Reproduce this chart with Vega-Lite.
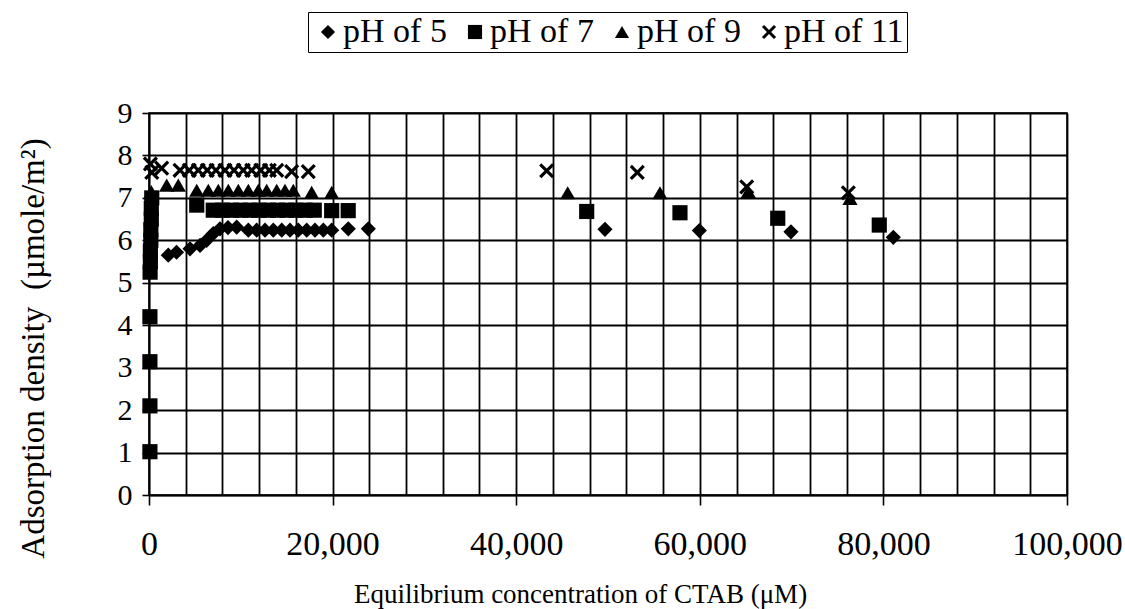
{
  "$schema": "https://vega.github.io/schema/vega-lite/v6.json",
  "width": 918,
  "height": 382,
  "autosize": {"type": "none"},
  "padding": {"left": 149, "top": 113, "right": 58, "bottom": 114},
  "background": "white",
  "config": {
    "view": {"stroke": "black", "strokeWidth": 1.5},
    "font": "Liberation Serif",
    "axis": {
      "labelFont": "Liberation Serif",
      "titleFont": "Liberation Serif",
      "labelColor": "black",
      "titleColor": "black",
      "titleFontWeight": "normal",
      "domainColor": "black",
      "domainWidth": 1.6,
      "tickColor": "black",
      "tickWidth": 1.6,
      "gridColor": "black",
      "gridWidth": 1.8,
      "gridOpacity": 1
    },
    "legend": {
      "labelFont": "Liberation Serif",
      "labelColor": "black"
    }
  },
  "data": {
    "values": [
      {"c": 2100, "a": 5.65, "pH": "pH of 5"},
      {"c": 3000, "a": 5.72, "pH": "pH of 5"},
      {"c": 4470, "a": 5.8, "pH": "pH of 5"},
      {"c": 5560, "a": 5.88, "pH": "pH of 5"},
      {"c": 6280, "a": 6.0, "pH": "pH of 5"},
      {"c": 7000, "a": 6.16, "pH": "pH of 5"},
      {"c": 7730, "a": 6.27, "pH": "pH of 5"},
      {"c": 8600, "a": 6.3, "pH": "pH of 5"},
      {"c": 9550, "a": 6.31, "pH": "pH of 5"},
      {"c": 10820, "a": 6.24, "pH": "pH of 5"},
      {"c": 11730, "a": 6.24, "pH": "pH of 5"},
      {"c": 12640, "a": 6.24, "pH": "pH of 5"},
      {"c": 13540, "a": 6.24, "pH": "pH of 5"},
      {"c": 14460, "a": 6.24, "pH": "pH of 5"},
      {"c": 15360, "a": 6.24, "pH": "pH of 5"},
      {"c": 16260, "a": 6.24, "pH": "pH of 5"},
      {"c": 17180, "a": 6.24, "pH": "pH of 5"},
      {"c": 18080, "a": 6.24, "pH": "pH of 5"},
      {"c": 18990, "a": 6.24, "pH": "pH of 5"},
      {"c": 19900, "a": 6.24, "pH": "pH of 5"},
      {"c": 21710, "a": 6.27, "pH": "pH of 5"},
      {"c": 23890, "a": 6.27, "pH": "pH of 5"},
      {"c": 49670, "a": 6.26, "pH": "pH of 5"},
      {"c": 59950, "a": 6.23, "pH": "pH of 5"},
      {"c": 69930, "a": 6.2, "pH": "pH of 5"},
      {"c": 81080, "a": 6.07, "pH": "pH of 5"},

      {"c": 100, "a": 1.02, "pH": "pH of 7"},
      {"c": 100, "a": 2.1, "pH": "pH of 7"},
      {"c": 100, "a": 3.14, "pH": "pH of 7"},
      {"c": 100, "a": 4.2, "pH": "pH of 7"},
      {"c": 120, "a": 5.25, "pH": "pH of 7"},
      {"c": 150, "a": 5.5, "pH": "pH of 7"},
      {"c": 150, "a": 5.75, "pH": "pH of 7"},
      {"c": 200, "a": 6.0, "pH": "pH of 7"},
      {"c": 200, "a": 6.25, "pH": "pH of 7"},
      {"c": 250, "a": 6.5, "pH": "pH of 7"},
      {"c": 250, "a": 6.75, "pH": "pH of 7"},
      {"c": 300, "a": 7.0, "pH": "pH of 7"},
      {"c": 5200, "a": 6.83, "pH": "pH of 7"},
      {"c": 7000, "a": 6.71, "pH": "pH of 7"},
      {"c": 8000, "a": 6.71, "pH": "pH of 7"},
      {"c": 9000, "a": 6.71, "pH": "pH of 7"},
      {"c": 10000, "a": 6.71, "pH": "pH of 7"},
      {"c": 11000, "a": 6.71, "pH": "pH of 7"},
      {"c": 12000, "a": 6.71, "pH": "pH of 7"},
      {"c": 13000, "a": 6.71, "pH": "pH of 7"},
      {"c": 14000, "a": 6.71, "pH": "pH of 7"},
      {"c": 15000, "a": 6.71, "pH": "pH of 7"},
      {"c": 16000, "a": 6.71, "pH": "pH of 7"},
      {"c": 17000, "a": 6.71, "pH": "pH of 7"},
      {"c": 18000, "a": 6.71, "pH": "pH of 7"},
      {"c": 19900, "a": 6.7, "pH": "pH of 7"},
      {"c": 21700, "a": 6.7, "pH": "pH of 7"},
      {"c": 47680, "a": 6.68, "pH": "pH of 7"},
      {"c": 57840, "a": 6.65, "pH": "pH of 7"},
      {"c": 68490, "a": 6.52, "pH": "pH of 7"},
      {"c": 79550, "a": 6.36, "pH": "pH of 7"},

      {"c": 250, "a": 7.15, "pH": "pH of 9"},
      {"c": 1930, "a": 7.3, "pH": "pH of 9"},
      {"c": 3190, "a": 7.3, "pH": "pH of 9"},
      {"c": 5200, "a": 7.18, "pH": "pH of 9"},
      {"c": 6460, "a": 7.18, "pH": "pH of 9"},
      {"c": 7550, "a": 7.18, "pH": "pH of 9"},
      {"c": 8640, "a": 7.18, "pH": "pH of 9"},
      {"c": 9730, "a": 7.18, "pH": "pH of 9"},
      {"c": 10820, "a": 7.18, "pH": "pH of 9"},
      {"c": 11900, "a": 7.18, "pH": "pH of 9"},
      {"c": 12820, "a": 7.18, "pH": "pH of 9"},
      {"c": 13910, "a": 7.18, "pH": "pH of 9"},
      {"c": 14810, "a": 7.18, "pH": "pH of 9"},
      {"c": 15720, "a": 7.18, "pH": "pH of 9"},
      {"c": 17720, "a": 7.13, "pH": "pH of 9"},
      {"c": 19900, "a": 7.13, "pH": "pH of 9"},
      {"c": 45610, "a": 7.12, "pH": "pH of 9"},
      {"c": 55660, "a": 7.12, "pH": "pH of 9"},
      {"c": 65280, "a": 7.15, "pH": "pH of 9"},
      {"c": 76360, "a": 6.99, "pH": "pH of 9"},

      {"c": 150, "a": 7.8, "pH": "pH of 11"},
      {"c": 300, "a": 7.6, "pH": "pH of 11"},
      {"c": 1380, "a": 7.7, "pH": "pH of 11"},
      {"c": 3380, "a": 7.65, "pH": "pH of 11"},
      {"c": 4390, "a": 7.65, "pH": "pH of 11"},
      {"c": 5370, "a": 7.65, "pH": "pH of 11"},
      {"c": 6350, "a": 7.65, "pH": "pH of 11"},
      {"c": 7300, "a": 7.65, "pH": "pH of 11"},
      {"c": 8280, "a": 7.65, "pH": "pH of 11"},
      {"c": 9260, "a": 7.65, "pH": "pH of 11"},
      {"c": 10270, "a": 7.65, "pH": "pH of 11"},
      {"c": 11190, "a": 7.65, "pH": "pH of 11"},
      {"c": 12170, "a": 7.65, "pH": "pH of 11"},
      {"c": 13110, "a": 7.65, "pH": "pH of 11"},
      {"c": 13910, "a": 7.65, "pH": "pH of 11"},
      {"c": 15540, "a": 7.62, "pH": "pH of 11"},
      {"c": 17350, "a": 7.62, "pH": "pH of 11"},
      {"c": 43320, "a": 7.64, "pH": "pH of 11"},
      {"c": 53190, "a": 7.6, "pH": "pH of 11"},
      {"c": 65110, "a": 7.26, "pH": "pH of 11"},
      {"c": 76180, "a": 7.12, "pH": "pH of 11"}
    ]
  },
  "mark": {"type": "point", "filled": true, "color": "black", "opacity": 1, "strokeWidth": 0, "size": 230},
  "encoding": {
    "x": {
      "field": "c",
      "type": "quantitative",
      "scale": {"domain": [0, 100000], "nice": false, "zero": true},
      "axis": {
        "title": "Equilibrium concentration of CTAB (μM)",
        "titleFontSize": 27,
        "titleX": 431,
        "titleY": 107,
        "titleAlign": "center",
        "titleBaseline": "alphabetic",
        "values": [0, 4000, 8000, 12000, 16000, 20000, 24000, 28000, 32000, 36000, 40000, 44000, 48000, 52000, 56000, 60000, 64000, 68000, 72000, 76000, 80000, 84000, 88000, 92000, 96000, 100000],
        "labelExpr": "datum.value % 20000 === 0 ? format(datum.value, ',') : ''",
        "labelFontSize": 34,
        "labelPadding": 22,
        "labelFlush": false,
        "labelOverlap": false,
        "tickSize": 10,
        "tickOpacity": {"condition": {"test": "datum.value % 20000 === 0", "value": 1}, "value": 0},
        "grid": true
      }
    },
    "y": {
      "field": "a",
      "type": "quantitative",
      "scale": {"domain": [0, 9], "nice": false},
      "axis": {
        "title": "Adsorption density\u00a0 (µmole/m²)",
        "titleFontSize": 33,
        "titleAngle": -90,
        "titleX": -116,
        "titleY": 235,
        "titleAlign": "center",
        "titleBaseline": "middle",
        "values": [0, 1, 2, 3, 4, 5, 6, 7, 8, 9],
        "labelFontSize": 30,
        "labelPadding": 10,
        "labelBaseline": "middle",
        "tickSize": 7,
        "grid": true
      }
    },
    "shape": {
      "field": "pH",
      "type": "nominal",
      "scale": {
        "domain": ["pH of 5", "pH of 7", "pH of 9", "pH of 11"],
        "range": ["diamond", "square", "triangle-up", "M-1,-0.7L-0.7,-1L0,-0.3L0.7,-1L1,-0.7L0.3,0L1,0.7L0.7,1L0,0.3L-0.7,1L-1,0.7L-0.3,0Z"]
      },
      "legend": {
        "title": null,
        "orient": "none",
        "direction": "horizontal",
        "legendX": 159,
        "legendY": -101,
        "labelFontSize": 34,
        "labelOffset": -2,
        "columnPadding": 11,
        "symbolSize": 200,
        "symbolFillColor": "black",
        "symbolStrokeWidth": 0,
        "symbolOpacity": 1,
        "padding": 3,
        "strokeColor": "black",
        "fillColor": "white"
      }
    }
  }
}
